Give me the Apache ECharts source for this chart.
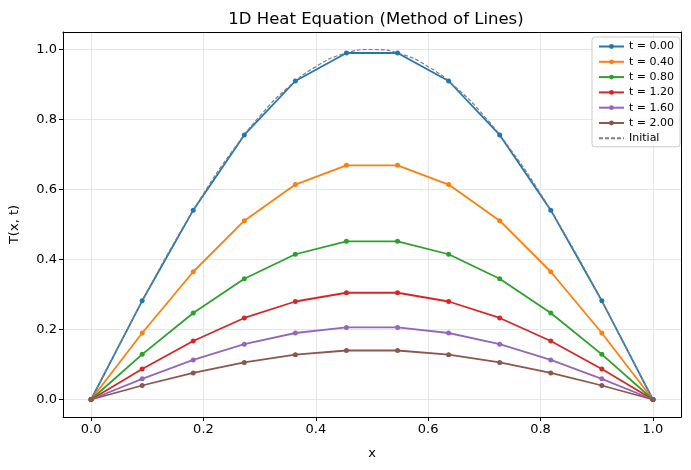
<!DOCTYPE html>
<html>
<head>
<meta charset="utf-8">
<script src="https://cdn.jsdelivr.net/npm/echarts@6/dist/echarts.min.js"></script>
<style>html,body{margin:0;padding:0;background:#fff}</style>
</head>
<body>
<div id="main" style="width:691px;height:470px"></div>
<script type="text/javascript">
    // grid points x = k/11
    var xs = [0, 0.0909, 0.1818, 0.2727, 0.3636, 0.4545, 0.5455, 0.6364, 0.7273, 0.8182, 0.9091, 1.0];
    var labels = ['t = 0.00', 't = 0.40', 't = 0.80', 't = 1.20', 't = 1.60', 't = 2.00'];
    var t000 = [0, 0.282, 0.541, 0.756, 0.910, 0.990, 0.990, 0.910, 0.756, 0.541, 0.282, 0];
    var t040 = [0, 0.190, 0.365, 0.511, 0.614, 0.669, 0.669, 0.614, 0.511, 0.365, 0.190, 0];
    var t080 = [0, 0.129, 0.247, 0.345, 0.415, 0.452, 0.452, 0.415, 0.345, 0.247, 0.129, 0];
    var t120 = [0, 0.087, 0.167, 0.233, 0.280, 0.305, 0.305, 0.280, 0.233, 0.167, 0.087, 0];
    var t160 = [0, 0.059, 0.113, 0.158, 0.190, 0.206, 0.206, 0.190, 0.158, 0.113, 0.059, 0];
    var t200 = [0, 0.040, 0.076, 0.106, 0.128, 0.140, 0.140, 0.128, 0.106, 0.076, 0.040, 0];
    // initial profile, fine sampling
    var xInit = [0, 0.05, 0.1, 0.15, 0.2, 0.25, 0.3, 0.35, 0.4, 0.45, 0.5, 0.55, 0.6, 0.65, 0.7, 0.75, 0.8, 0.85, 0.9, 0.95, 1.0];
    var yInit = [0, 0.156, 0.309, 0.454, 0.588, 0.707, 0.809, 0.891, 0.951, 0.988, 1.0, 0.988, 0.951, 0.891, 0.809, 0.707, 0.588, 0.454, 0.309, 0.156, 0];
    var colors = ['#1f77b4', '#ff7f0e', '#2ca02c', '#d62728', '#9467bd', '#8c564b'];
    var profiles = [t000, t040, t080, t120, t160, t200];

    function pairs(xv, yv) {
        return xv.map(function (x, i) { return [x, yv[i]]; });
    }

    var font = 'DejaVu Sans';
    var series = profiles.map(function (p, i) {
        return {
            name: labels[i],
            type: 'line',
            data: pairs(xs, p),
            symbol: 'circle',
            symbolSize: 5,
            showSymbol: true,
            itemStyle: {color: colors[i]},
            lineStyle: {color: colors[i], width: 1.8},
            emphasis: {disabled: true}
        };
    });
    series.push({
        name: 'Initial',
        type: 'line',
        data: pairs(xInit, yInit),
        smooth: true,
        symbol: 'none',
        itemStyle: {color: '#808080'},
        lineStyle: {color: '#808080', width: 1.2, type: [4, 2]},
        emphasis: {disabled: true}
    });

    var legendData = labels.map(function (n) { return {name: n}; });
    legendData.push({name: 'Initial', itemStyle: {opacity: 0}});

    function axisCommon(name, gap) {
        return {
            type: 'value',
            min: -0.05,
            max: 1.05,
            splitNumber: 5,
            name: name,
            nameLocation: 'middle',
            nameGap: gap,
            nameTextStyle: {fontFamily: font, fontSize: 13, color: '#000'},
            axisLine: {show: true, onZero: false, lineStyle: {color: '#000'}},
            axisTick: {show: true, length: 4, lineStyle: {color: '#000'}},
            axisLabel: {
                showMinLabel: false, showMaxLabel: false,
                fontFamily: font, fontSize: 13, color: '#000', margin: 6,
                formatter: function (v) { return v.toFixed(1); }
            },
            splitLine: {show: true, showMinLine: false, showMaxLine: false,
                lineStyle: {color: '#e6e6e6', width: 1}}
        };
    }
    function frame(pos) {
        return {
            type: 'value', position: pos, min: -0.05, max: 1.05,
            axisLine: {show: true, onZero: false, lineStyle: {color: '#000'}},
            axisTick: {show: false}, axisLabel: {show: false}, splitLine: {show: false}
        };
    }

    var myChart = echarts.init(document.getElementById('main'));
    var option = {
        animation: false,
        textStyle: {fontFamily: font},
        title: {
            text: '1D Heat Equation (Method of Lines)',
            left: 371,
            textAlign: 'center',
            top: 6,
            textStyle: {fontFamily: font, fontSize: 16.5, fontWeight: 'normal', color: '#000'}
        },
        grid: {left: 62, right: 10, top: 32, bottom: 53},
        legend: {
            orient: 'vertical',
            right: 11,
            top: 37,
            padding: [4, 6, 3, 6],
            itemWidth: 25,
            itemHeight: 6,
            itemGap: 4.3,
            borderColor: '#cccccc',
            borderWidth: 1,
            borderRadius: 3,
            backgroundColor: 'rgba(255,255,255,0.8)',
            textStyle: {fontFamily: font, fontSize: 11, color: '#000'},
            data: legendData
        },
        xAxis: [axisCommon('x', 30), frame('top')],
        yAxis: [axisCommon('T(x, t)', 42), frame('right')],
        series: series
    };
    myChart.setOption(option);
</script>
</body>
</html>
